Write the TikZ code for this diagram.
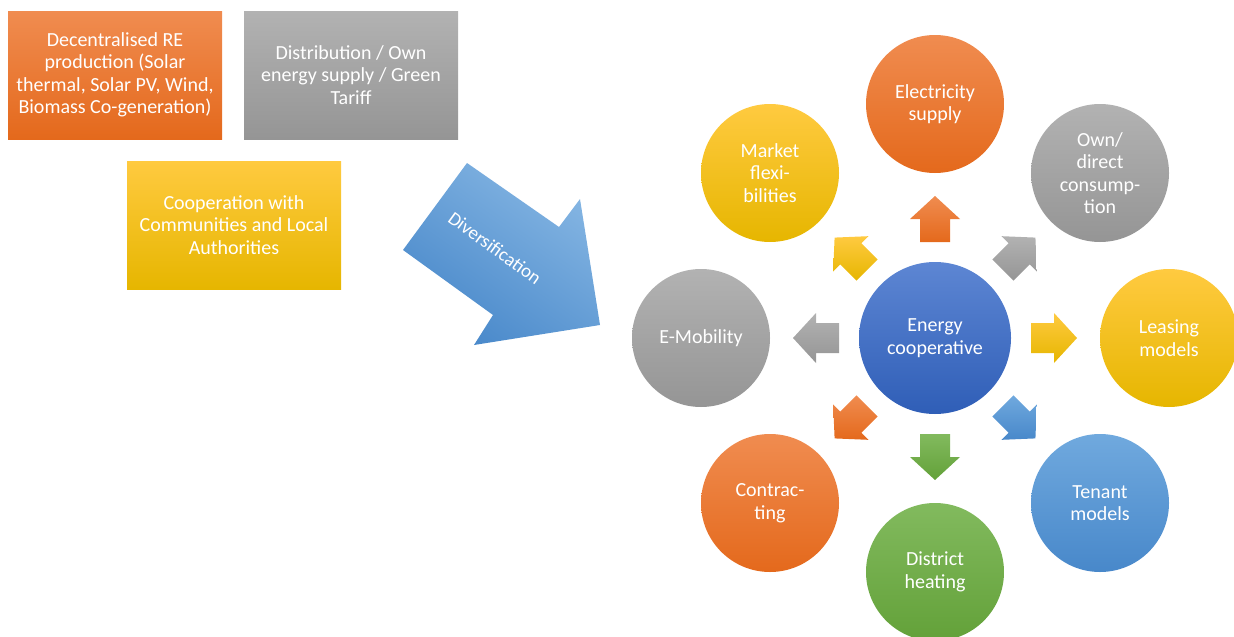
\documentclass[tikz,border=0pt]{standalone}
\usepackage{fontspec}
\setmainfont{Carlito}
\usetikzlibrary{calc}
\definecolor{orT}{HTML}{F08C50}
\definecolor{orB}{HTML}{E4691C}
\definecolor{grT}{HTML}{B2B2B2}
\definecolor{grB}{HTML}{959595}
\definecolor{ylT}{HTML}{FFCA40}
\definecolor{ylB}{HTML}{E6B600}
\definecolor{buT}{HTML}{5D86D3}
\definecolor{buB}{HTML}{2F5EB7}
\definecolor{lbT}{HTML}{70A9DE}
\definecolor{lbB}{HTML}{4888CA}
\definecolor{gnT}{HTML}{82BA5E}
\definecolor{gnB}{HTML}{63A139}
\tikzset{
  lbl/.style={text=white, align=center, font=\fontsize{20}{22.5}\selectfont},
  boxnode/.style={lbl, rectangle, inner sep=0pt, minimum width=214pt, minimum height=128pt},
  ring/.style={lbl, circle, inner sep=0pt, minimum size=138pt},
  hub/.style={lbl, circle, inner sep=0pt, minimum size=152pt},
}
\newcommand\blockarr[3]{%
  \shade[top color=#2,bottom color=#3]
   ($(c)+(#1:96)+(#1+90:15)$) -- ($(c)+(#1:119)+(#1+90:15)$) --
   ($(c)+(#1:119)+(#1+90:25)$) -- ($(c)+(#1:142)$) --
   ($(c)+(#1:119)+(#1-90:25)$) -- ($(c)+(#1:119)+(#1-90:15)$) --
   ($(c)+(#1:96)+(#1-90:15)$) -- cycle;}
\begin{document}
\begin{tikzpicture}[x=1pt,y=-1pt]
\useasboundingbox (0,0) rectangle (1234,637);
% top-left boxes
\node[boxnode, top color=orT, bottom color=orB] (dec) at (115,75)
  {Decentralised RE\\production (Solar\\thermal, Solar PV, Wind,\\Biomass Co-generation)};
\node[boxnode, top color=grT, bottom color=grB] (dst) at (351,75)
  {Distribution / Own\\energy supply / Green\\Tariff};
\node[boxnode, top color=ylT, bottom color=ylB] (coop) at (234,225)
  {Cooperation with\\Communities and Local\\Authorities};
% big arrow
\coordinate (T1) at (467,163);
\coordinate (N1) at (559,227);
\coordinate (H1) at (580,199);
\coordinate (TP) at (600,325);
\coordinate (H2) at (474,345);
\coordinate (N2) at (493,315);
\coordinate (T2) at (403,250);
\shade[top color=lbT!85!white, bottom color=lbB, shading angle=-35]
  (T1) -- (N1) -- (H1) -- (TP) -- (H2) -- (N2) -- (T2) -- cycle;
\node[lbl, font=\fontsize{19}{22.5}\selectfont, rotate=-36] (div) at (495,248) {Diversification};
% hub and ring
\node[hub, top color=buT, bottom color=buB] (c) at (935,338) {Energy\\cooperative};
\node[ring, top color=orT, bottom color=orB] (elec) at (935,104) {Electricity\\supply};
\node[ring, top color=grT, bottom color=grB] (own) at (1100,173) {Own/\\direct\\consump-\\tion};
\node[ring, top color=ylT, bottom color=ylB] (leas) at (1169,338) {Leasing\\models};
\node[ring, top color=lbT, bottom color=lbB] (ten) at (1100,503) {Tenant\\models};
\node[ring, top color=gnT, bottom color=gnB] (dist) at (935,572) {District\\heating};
\node[ring, top color=orT, bottom color=orB] (contr) at (770,503) {Contrac-\\ting};
\node[ring, top color=grT, bottom color=grB] (emob) at (701,338) {E-Mobility};
\node[ring, top color=ylT, bottom color=ylB] (mark) at (770,173) {Market\\flexi-\\bilities};
% block arrows
\blockarr{-90}{orT}{orB}
\blockarr{-45}{grT}{grB}
\blockarr{0}{ylT}{ylB}
\blockarr{45}{lbT}{lbB}
\blockarr{90}{gnT}{gnB}
\blockarr{135}{orT}{orB}
\blockarr{180}{grT}{grB}
\blockarr{-135}{ylT}{ylB}
\end{tikzpicture}
\end{document}
